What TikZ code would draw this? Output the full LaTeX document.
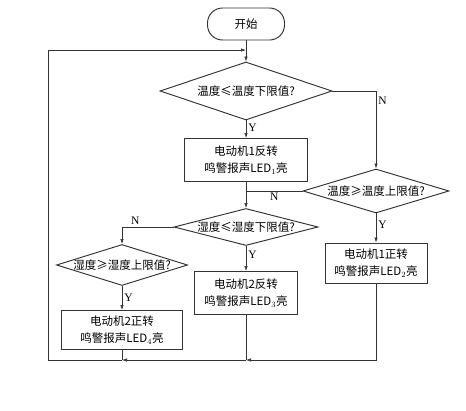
\documentclass[tikz,border=0pt]{standalone}
\usepackage{fontspec}
\setmainfont{Liberation Serif}
\newfontfamily\cjk{Noto Sans CJK SC}
\usetikzlibrary{arrows.meta,shapes.geometric}
\newcommand{\dtxt}[1]{\makebox[0pt]{#1}}

\begin{document}
\begin{tikzpicture}[x=1pt,y=-1pt,
  >={Latex[length=5pt,width=3.4pt]},
  flow/.style={draw=black!80,line width=0.6pt},
  proc/.style={draw=black!80,line width=0.95pt,align=center,inner sep=0pt,
    font=\cjk\fontsize{11.5}{17}\selectfont},
  decide/.style={draw=black!80,line width=0.95pt,diamond,inner sep=0pt,
    font=\cjk\fontsize{11.5}{13}\selectfont},
  term/.style={draw=black!80,line width=0.95pt,rounded corners=15pt,
    minimum width=77,minimum height=32,font=\cjk\fontsize{11.5}{13}\selectfont},
  yn/.style={font=\fontsize{11.5}{13}\selectfont,inner sep=2pt}]
  \useasboundingbox (0,0) rectangle (466,410);

  % nodes
  \node[term] (start) at (246,24) {开始};
  \node[decide,minimum width=172,minimum height=58] (d1) at (246,91)
    {\dtxt{温度≤温度下限值?}};
  \node[proc,minimum width=123,minimum height=43] (b1) at (246,160)
    {电动机1反转\\鸣警报声LED$_1$亮};
  \node[decide,minimum width=146,minimum height=44] (d2) at (376,191)
    {\dtxt{温度≥温度上限值?}};
  \node[proc,minimum width=102,minimum height=40] (b2) at (376,263)
    {电动机1正转\\鸣警报声LED$_2$亮};
  \node[decide,minimum width=144,minimum height=37] (d3) at (246,227)
    {\dtxt{湿度≤湿度下限值?}};
  \node[proc,minimum width=103,minimum height=43] (b3) at (246,293)
    {电动机2反转\\鸣警报声LED$_3$亮};
  \node[decide,minimum width=131,minimum height=41] (d4) at (122,265)
    {\dtxt{湿度≥湿度上限值?}};
  \node[proc,minimum width=121,minimum height=39] (b4) at (122,330)
    {电动机2正转\\鸣警报声LED$_4$亮};

  % junctions
  \coordinate (m1) at (b1.south |- d2.west);
  \coordinate (j1) at (246,50);
  \coordinate (j3) at (246,360);
  \coordinate (j4) at (122,360);
  \coordinate (lc) at (48,360);

  % connectors
  \draw[flow,->] (start) -- (d1);
  \draw[flow,->] (d1.south) -- (b1.north) node[yn,right,pos=0.4] {Y};
  \draw[flow,->] (d1.east) -| (d2.north) node[yn,right,pos=0.56] {N};
  \draw[flow,->] (b1.south) -- (d3.north);
  \draw[flow] (d2.west) -- (m1) node[yn,below,midway] {N};
  \draw[flow,->] (d2.south) -- (b2.north) node[yn,right,pos=0.4] {Y};
  \draw[flow,->] (d3.west) -| (d4.north) node[yn,above,pos=0.37] {N};
  \draw[flow,->] (d3.south) -- (b3.north) node[yn,right,pos=0.35] {Y};
  \draw[flow,->] (d4.south) -- (b4.north) node[yn,right,pos=0.5] {Y};

  % back to the top
  \draw[flow,->] (b2.south) |- (j3);
  \draw[flow] (b3.south) -- (j3);
  \draw[flow,->] (j3) -- (j4);
  \draw[flow] (b4.south) -- (j4);
  \draw[flow,->] (j4) -- (lc) |- (j1);
\end{tikzpicture}
\end{document}
